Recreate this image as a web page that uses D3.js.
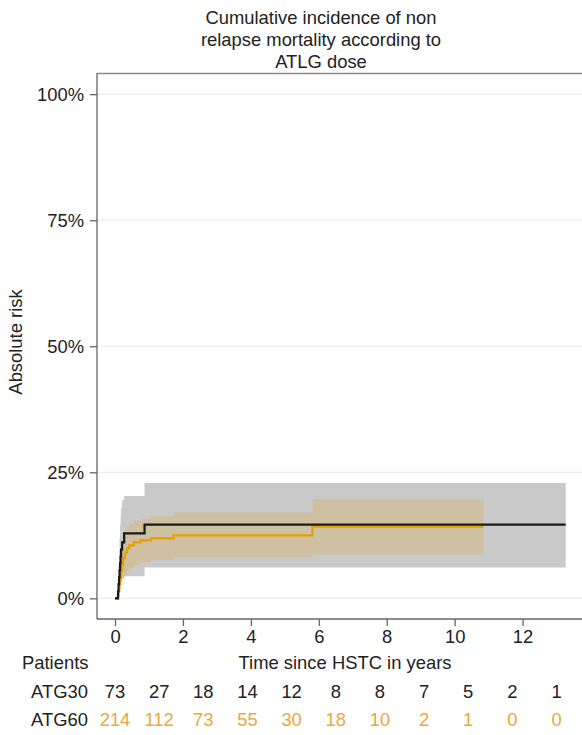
<!DOCTYPE html>
<html>
<head>
<meta charset="utf-8">
<script src="https://cdn.jsdelivr.net/npm/d3@7"></script>
<style>
  html, body { margin: 0; padding: 0; background: #fff; }
  svg { display: block; font-family: "Liberation Sans", Arial, Helvetica, sans-serif; }
</style>
</head>
<body>
<svg id="chart" width="582" height="735"></svg>
<script>
// Cumulative incidence estimates (percent) with confidence bands, by ATLG dose group
const atg30Time  = [0, 0.09, 0.105, 0.12, 0.135, 0.15, 0.165, 0.18, 0.21, 0.27, 0.87, 13.27];
const atg30Risk  = [0, 1.4, 2.8, 4.2, 5.6, 7.0, 8.3, 9.7, 11.1, 12.9, 14.6, 14.6];
const atg30Lower = [0, 0, 0.2, 0.6, 1.2, 1.9, 2.6, 3.3, 4.0, 4.4, 6.1, 6.1];
const atg30Upper = [0, 3.5, 6.5, 9.5, 12.0, 14.5, 16.5, 18.0, 19.5, 20.3, 22.9, 22.9];

const atg60Time  = [0, 0.08, 0.1, 0.12, 0.14, 0.17, 0.2, 0.24, 0.29, 0.35, 0.42, 0.55, 0.75, 1.06, 1.72, 5.81, 10.85];
const atg60Risk  = [0, 0.5, 1.5, 2.8, 4.0, 5.3, 6.6, 8.0, 9.1, 9.9, 10.5, 11.1, 11.5, 11.9, 12.5, 14.2, 14.2];
const atg60Lower = [0, 0, 0.2, 0.6, 1.1, 1.8, 2.6, 3.6, 4.6, 5.4, 6.0, 6.6, 7.1, 7.6, 8.1, 8.7, 8.7];
const atg60Upper = [0, 1.5, 3.2, 5.0, 6.8, 8.7, 10.5, 12.3, 13.5, 14.3, 14.8, 15.4, 15.8, 16.3, 17.0, 19.7, 19.7];

// Axis ticks
const xTicks = [0, 2, 4, 6, 8, 10, 12];
const yTicks = [0, 25, 50, 75, 100];

// Numbers at risk table
const riskTimes = [0, 1.3, 2.6, 3.9, 5.2, 6.5, 7.8, 9.1, 10.4, 11.7, 13.0];
const atg30AtRisk = [73, 27, 18, 14, 12, 8, 8, 7, 5, 2, 1];
const atg60AtRisk = [214, 112, 73, 55, 30, 18, 10, 2, 1, 0, 0];

const titleLines = ["Cumulative incidence of non", "relapse mortality according to", "ATLG dose"];

const black = "#1a1a1a";
const orange = "#E69F00";
const orangeText = "#E9A83C";
const textColor = "#222";
const fs = 18.4;

const svg = d3.select("#chart");
const W = 582;

const x = d3.scaleLinear().domain([-0.53, 13.75]).range([97, 582]);
const y = d3.scaleLinear().domain([-4.1, 104.2]).range([619, 73]);

const zip = (t, a, b) => t.map((d, i) => ({ t: d, v: a[i], v2: b ? b[i] : null }));

// Gridlines
svg.append("g").selectAll("line").data(yTicks).join("line")
  .attr("x1", x.range()[0]).attr("x2", W)
  .attr("y1", d => y(d)).attr("y2", d => y(d))
  .attr("stroke", "#ebebeb").attr("stroke-width", 1.2);

// Confidence bands
const band = d3.area().curve(d3.curveStepAfter)
  .x(d => x(d.t)).y0(d => y(d.v)).y1(d => y(d.v2));

svg.append("path").datum(zip(atg30Time, atg30Lower, atg30Upper))
  .attr("d", band).attr("fill", "#000").attr("fill-opacity", 0.21);
svg.append("path").datum(zip(atg60Time, atg60Lower, atg60Upper))
  .attr("d", band).attr("fill", orange).attr("fill-opacity", 0.2);

// Step curves
const step = d3.line().curve(d3.curveStepAfter).x(d => x(d.t)).y(d => y(d.v));
svg.append("path").datum(zip(atg60Time, atg60Risk))
  .attr("d", step).attr("fill", "none").attr("stroke", orange).attr("stroke-width", 2.2);
svg.append("path").datum(zip(atg30Time, atg30Risk))
  .attr("d", step).attr("fill", "none").attr("stroke", black).attr("stroke-width", 2.2);

// Plot frame: top border
svg.append("line").attr("x1", 97).attr("x2", W).attr("y1", 73.5).attr("y2", 73.5)
  .attr("stroke", "#8a8a8a").attr("stroke-width", 1.3);

// Axes
const yAxis = d3.axisLeft(y).tickValues(yTicks).tickFormat(d => d + "%").tickSize(7).tickPadding(6);
const gy = svg.append("g").attr("transform", "translate(97,0)").call(yAxis);
gy.select(".domain").attr("d", `M0,${y.range()[1]}V${y.range()[0]}`);

const xAxis = d3.axisBottom(x).tickValues(xTicks).tickSize(7).tickPadding(4);
const gx = svg.append("g").attr("transform", "translate(0,619)").call(xAxis);
gx.select(".domain").attr("d", `M97,0H${W}`);

[gx, gy].forEach(g => {
  g.select(".domain").attr("stroke", "#666").attr("stroke-width", 1.3);
  g.selectAll(".tick line").attr("stroke", "#666").attr("stroke-width", 1.3);
  g.selectAll(".tick text").attr("fill", textColor).attr("font-size", fs)
    .attr("font-family", "Liberation Sans, Arial, sans-serif");
});

// Title
svg.append("g").selectAll("text").data(titleLines).join("text")
  .attr("x", 321).attr("y", (d, i) => 24 + i * 22)
  .attr("text-anchor", "middle").attr("font-size", fs).attr("fill", textColor)
  .text(d => d);

// Axis titles
svg.append("text").attr("transform", "translate(22,342) rotate(-90)")
  .attr("text-anchor", "middle").attr("font-size", fs).attr("fill", textColor)
  .text("Absolute risk");
svg.append("text").attr("x", 345).attr("y", 669)
  .attr("text-anchor", "middle").attr("font-size", fs).attr("fill", textColor)
  .text("Time since HSTC in years");

// Numbers at risk
svg.append("text").attr("x", 22).attr("y", 669)
  .attr("font-size", fs).attr("fill", textColor).text("Patients");

const rows = [
  { label: "ATG30", values: atg30AtRisk, color: textColor, yPos: 698 },
  { label: "ATG60", values: atg60AtRisk, color: orangeText, yPos: 726 }
];
rows.forEach(r => {
  svg.append("text").attr("x", 88).attr("y", r.yPos).attr("text-anchor", "end")
    .attr("font-size", fs).attr("fill", textColor).text(r.label);
  svg.append("g").selectAll("text").data(r.values).join("text")
    .attr("x", (d, i) => x(riskTimes[i])).attr("y", r.yPos)
    .attr("text-anchor", "middle").attr("font-size", fs).attr("fill", r.color)
    .text(d => d);
});
</script>
</body>
</html>
